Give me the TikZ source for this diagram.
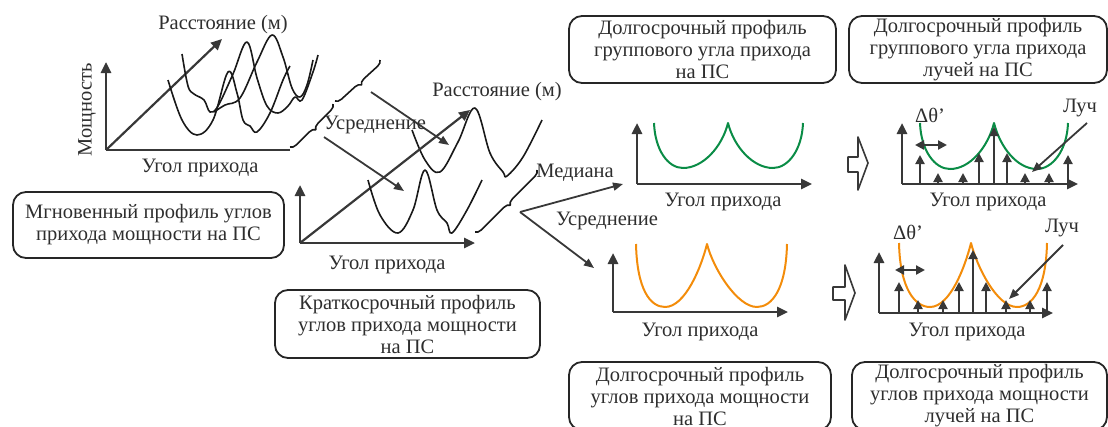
\documentclass[tikz,border=0pt]{standalone}
\usepackage{fontspec}
\setmainfont{Liberation Serif}
\newfontfamily\diagfont{Liberation Serif}
\usepackage{tikz}
\usetikzlibrary{arrows.meta,decorations.pathreplacing,calc,positioning}
\definecolor{lobegreen}{RGB}{10,140,70}
\definecolor{lobeorange}{RGB}{243,140,10}

% two U shaped lobes meeting in a cusp: colour, start, min, cusp, min, end, top, bottom
\newcommand{\twinlobe}[8]{%
  \draw[lobe,#1] (#2,#7) .. controls ({#2+1},{#8-18}) and ({#3-15},#8) .. (#3,#8)
    .. controls ({#3+20},#8) and ({#4-6},{#7+24}) .. (#4,#7)
    .. controls ({#4+6},{#7+24}) and ({#5-20},#8) .. (#5,#8)
    .. controls ({#5+15},#8) and ({#6-1},{#8-18}) .. (#6,#7);}

\begin{document}
\begin{tikzpicture}[x=1pt, y=-1pt, line join=round,
  every node/.style={text=black!82, font=\diagfont\fontsize{20.5}{22}\selectfont, inner sep=0pt},
  infobox/.style={draw=black!85, line width=1.8pt, rounded corners=13pt, align=center},
  axis/.style={draw=black!78, line width=2.6pt, -{Triangle[length=11pt,width=10pt]}},
  wave/.style={draw=black!90, line width=1.6pt},
  lobe/.style={line width=2pt},
  ray/.style={draw=black!78, line width=2pt, -{Triangle[length=9pt,width=9pt]}},
  pointer/.style={draw=black!78, line width=1.8pt, -{Triangle[length=10pt,width=8pt]}},
  span/.style={draw=black!78, line width=2.2pt, {Triangle[length=9pt,width=9pt]}-{Triangle[length=9pt,width=9pt]}},
  bracket/.style={draw=black!90, line width=1.6pt, decorate, decoration={brace, amplitude=6pt}},
  blockarrow/.style={draw=black!78, line width=1.6pt, fill=white}]
  \useasboundingbox (0,0) rectangle (1108,426);% page size of the reference

  % instantaneous profile
  \coordinate (o1) at (106,150);
  \coordinate (o1y) at (106,62);
  \coordinate (o1x) at (290,150);
  \coordinate (o1z) at (222,39);
  \draw[axis] (o1) -- (o1y);
  \draw[axis,-] (o1) -- (o1x);
  \draw[axis,line width=2.2pt] (o1) -- (o1z);
  \draw[wave] plot[smooth,tension=0.6] coordinates {(168,80) (182,120) (197,135) (213,120) (228,72) (237,93) (243,120) (250,126) (257,132) (270,113) (283,80) (290,66)};
  \draw[wave] plot[smooth,tension=0.6] coordinates {(182,54) (188,86) (194,94) (204,100) (210,112) (218,106) (233,74) (247,42) (257,78) (267,106) (278,113) (288,106) (295,97) (302,100) (313,72) (318,55)};
  \draw[wave] plot[smooth,tension=0.6] coordinates {(214,112) (225,105) (240,98) (257,62) (272,35) (283,57) (292,88) (300,97) (307,85) (313,60)};
  \node (dist1) at (223,25) {Расстояние (м)};
  \node[rotate=90] (power1) at (87,110) {Мощность};
  \node (angle1) at (200,168) {Угол прихода};
  \node[infobox, minimum width=271pt, minimum height=66pt] (instbox) at (148.5,225) {Мгновенный профиль углов\\прихода мощности на ПС};

  % averaging over the distance
  \coordinate (b1s) at (290,147);
  \coordinate (b1m) at (333,104);
  \coordinate (b1n) at (335,101);
  \coordinate (b1e) at (380,60);
  \draw[bracket] (b1m) -- (b1s);
  \draw[bracket] (b1e) -- (b1n);
  \coordinate (avg1a) at (371,92);
  \coordinate (avg1b) at (324,137);
  \coordinate (back2) at (449,145);
  \coordinate (front2) at (404,191);
  \draw[pointer] (avg1a) -- (back2);
  \draw[pointer] (avg1b) -- (front2);
  \node (avg1) at (375,125) {Усреднение};

  % short term profile
  \coordinate (o2) at (300,243);
  \coordinate (o2y) at (300,185);
  \coordinate (o2x) at (475,243);
  \coordinate (o2z) at (470,110);
  \draw[axis] (o2) -- (o2y);
  \draw[axis] (o2) -- (o2x);
  \draw[wave] plot[smooth,tension=0.6] coordinates {(412,130) (425,160) (440,172) (458,142) (475,108) (490,153) (503,172) (507,176) (523,157) (542,120)};
  \draw[axis,line width=2.2pt] (o2) -- (o2z);
  \draw[wave] plot[smooth,tension=0.6] coordinates {(368,180) (380,215) (398,233) (413,210) (425,170) (437,210) (447,223) (452,233) (467,210) (482,180)};
  \node (dist2) at (497,92) {Расстояние (м)};
  \node (angle2) at (387,265) {Угол прихода};
  \node[infobox, minimum width=265pt, minimum height=68pt] (shortbox) at (407.5,324) {Краткосрочный профиль\\углов прихода мощности\\на ПС};

  % median and averaging
  \coordinate (b2s) at (475,232);
  \coordinate (b2e) at (537,170);
  \draw[bracket] (b2e) -- (b2s);
  \coordinate (fork) at (520,212);
  \coordinate (greenin) at (623,184);
  \coordinate (orangein) at (594,268);
  \draw[pointer] (fork) -- (greenin);
  \draw[pointer] (fork) -- (orangein);
  \node (median) at (575,173) {Медиана};
  \node (avg2) at (607,221) {Усреднение};

  % long term profiles
  \draw[axis] (637,184) coordinate (o3) -- (637,123) coordinate (o3y);
  \draw[axis] (o3) -- (812,184) coordinate (o3x);
  \twinlobe{lobegreen}{654}{683}{728}{773}{803}{123}{168}
  \node (angle3) at (723,202) {Угол прихода};
  \draw[axis] (613,312) coordinate (o4) -- (613,253) coordinate (o4y);
  \draw[axis] (o4) -- (788,312) coordinate (o4x);
  \twinlobe{lobeorange}{636}{665}{707}{757}{787}{244}{307}
  \node (angle4) at (700,332) {Угол прихода};
  \node[infobox, minimum width=267pt, minimum height=67pt] (groupbox) at (702.5,49.5) {Долгосрочный профиль\\группового угла прихода\\на ПС};
  \node[infobox, minimum width=262pt, minimum height=68pt] (longbox) at (700,396) {Долгосрочный профиль\\углов прихода мощности\\на ПС};

  % block arrows
  \draw[blockarrow] (848,157) -- (858,157) -- (858,137) -- (868,163) -- (858,190) -- (858,172) -- (848,172) -- cycle;
  \draw[blockarrow] (833,287) -- (845,287) -- (845,265) -- (855,293) -- (845,320) -- (845,300) -- (833,300) -- cycle;

  % ray profiles
  \draw[axis] (902,184) coordinate (o5) -- (902,123) coordinate (o5y);
  \draw[axis] (o5) -- (1078,184) coordinate (o5x);
  \twinlobe{lobegreen}{920}{950}{994}{1037}{1068}{123}{169}
  \foreach \x/\h in {920/155, 938/173, 963/173, 979/153, 994/127, 1007/153, 1025/173, 1049/173, 1068/155}
    \draw[ray] (\x,184) -- (\x,\h);
  \node (dth5) at (930,115) {Δθ’};
  \draw[span] (915,145) coordinate (dth5a) -- (947,145) coordinate (dth5b);
  \node (ray5) at (1080,108) {Луч};
  \coordinate (ray5a) at (1087,123);
  \coordinate (ray5b) at (1032,172);
  \draw[pointer] (ray5a) -- (ray5b);
  \node (angle5) at (988,202) {Угол прихода};

  \draw[axis] (879,313) coordinate (o6) -- (879,252) coordinate (o6y);
  \draw[axis] (o6) -- (1053,313) coordinate (o6x);
  \twinlobe{lobeorange}{899}{930}{971}{1017}{1047}{243}{307}
  \foreach \x/\h in {899/282, 918/300, 943/300, 959/282, 973/250, 986/282, 1006/300, 1030/300, 1047/282}
    \draw[ray] (\x,313) -- (\x,\h);
  \node (dth6) at (908,232) {Δθ’};
  \draw[span] (895,270) coordinate (dth6a) -- (925,270) coordinate (dth6b);
  \node (ray6) at (1062,228) {Луч};
  \coordinate (ray6a) at (1063,245);
  \coordinate (ray6b) at (1009,299);
  \draw[pointer] (ray6a) -- (ray6b);
  \node (angle6) at (967,332) {Угол прихода};
  \node[infobox, minimum width=258pt, minimum height=67pt] (raygroupbox) at (978,49.5) {Долгосрочный профиль\\группового угла прихода\\лучей на ПС};
  \node[infobox, minimum width=255pt, minimum height=68pt] (raylongbox) at (979.5,396) {Долгосрочный профиль\\углов прихода мощности\\лучей на ПС};
\end{tikzpicture}
\end{document}
